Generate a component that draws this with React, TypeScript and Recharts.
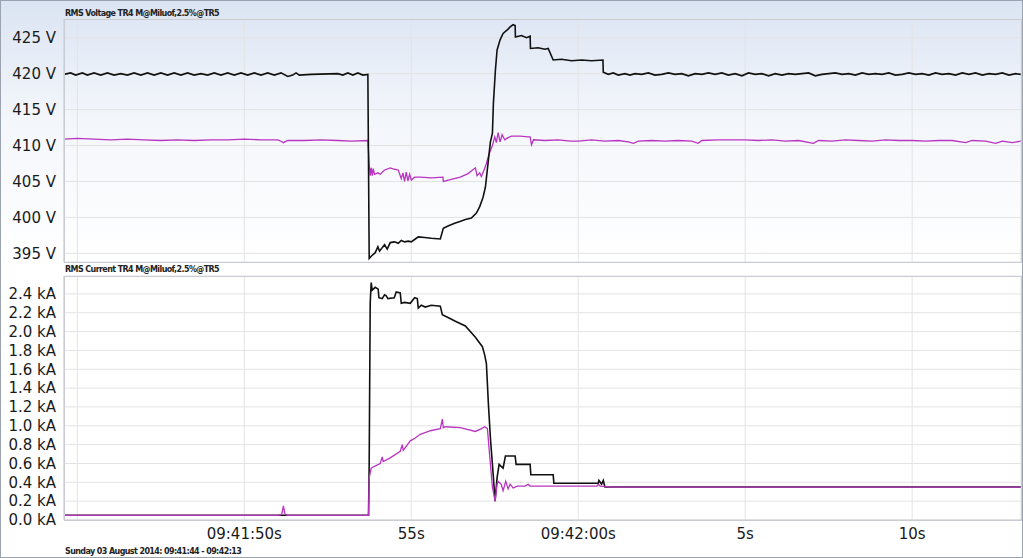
import React from 'react';
import { LineChart, Line, XAxis, YAxis, CartesianGrid } from 'recharts';

// time in seconds after 09:41:00, value
const voltageBlack: [number, number][] = [
  [44.6, 419.9], [44.8, 420.1], [44.95, 419.8], [45.15, 420.1], [45.3, 419.8], [45.5, 420.1], [45.7, 419.8],
  [45.9, 420.1], [46.1, 419.8], [46.3, 420.0], [46.5, 419.8], [46.7, 420.1], [46.9, 419.8], [47.1, 420.1],
  [47.3, 419.8], [47.5, 420.1], [47.7, 419.8], [47.9, 420.1], [48.1, 419.8], [48.3, 420.1], [48.5, 419.8],
  [48.7, 420.0], [48.9, 419.8], [49.1, 420.1], [49.3, 419.8], [49.5, 420.1], [49.7, 419.8], [49.9, 420.1],
  [50.1, 419.8], [50.3, 420.1], [50.5, 419.8], [50.7, 420.1], [50.9, 419.8], [51.1, 420.1], [51.3, 419.6],
  [51.45, 419.8], [51.55, 420.1], [51.65, 419.8], [52.0, 419.9], [52.8, 420.0], [52.95, 419.8], [53.1, 420.1],
  [53.25, 419.8], [53.4, 420.1], [53.55, 419.8], [53.7, 419.9],
  [53.74, 394.3], [53.8, 394.6], [53.92, 395.1], [54.0, 395.9], [54.05, 395.3], [54.13, 395.8], [54.2, 396.2],
  [54.28, 395.6], [54.37, 396.5], [54.5, 396.6], [54.61, 396.4], [54.7, 396.8], [54.8, 396.6], [54.91, 396.7],
  [55.0, 396.6], [55.12, 397.0], [55.21, 397.3], [55.4, 397.2], [55.6, 397.1], [55.87, 397.0], [55.96, 398.5],
  [56.1, 398.8], [56.3, 399.2], [56.5, 399.5], [56.62, 399.7], [56.8, 399.9], [56.95, 400.6], [57.05, 401.5],
  [57.15, 402.8], [57.22, 404.2], [57.31, 408.0], [57.37, 410.5], [57.43, 411.7], [57.46, 415.9], [57.52, 420.5],
  [57.57, 423.3], [57.66, 424.7], [57.75, 425.6], [57.9, 426.2], [57.96, 426.5], [58.05, 426.8], [58.11, 426.7],
  [58.12, 425.1], [58.3, 425.3], [58.45, 425.0], [58.56, 425.2], [58.57, 423.5], [58.8, 423.6], [59.0, 423.4],
  [59.1, 423.5], [59.25, 421.9], [59.5, 422.0], [59.8, 421.8], [60.1, 421.9], [60.4, 421.8], [60.74, 421.9],
  [60.75, 420.2], [60.9, 419.9], [61.05, 420.1], [61.2, 419.8], [61.4, 420.0], [61.55, 419.8], [61.7, 420.0],
  [61.9, 419.9], [62.1, 420.1], [62.3, 419.8], [62.5, 419.9], [62.7, 420.1], [62.9, 419.9], [63.1, 420.0],
  [63.3, 419.7], [63.5, 420.0], [63.7, 419.9], [63.9, 420.1], [64.1, 419.9], [64.3, 420.1], [64.5, 419.8],
  [64.7, 420.0], [64.9, 419.7], [65.1, 420.1], [65.3, 419.9], [65.5, 420.0], [65.7, 419.7], [65.9, 420.0],
  [66.1, 419.8], [66.3, 420.0], [66.5, 419.9], [66.7, 420.0], [66.9, 420.1], [67.1, 419.7], [67.3, 419.9],
  [67.5, 420.0], [67.7, 420.1], [67.9, 419.9], [68.1, 420.0], [68.3, 419.8], [68.5, 420.1], [68.7, 419.9],
  [68.9, 420.0], [69.1, 419.9], [69.3, 420.1], [69.5, 419.8], [69.7, 419.9], [69.9, 420.1], [70.1, 419.9],
  [70.3, 420.0], [70.5, 419.8], [70.7, 420.1], [70.9, 419.9], [71.1, 420.0], [71.3, 419.8], [71.5, 420.1],
  [71.7, 419.9], [71.9, 420.1], [72.1, 419.8], [72.3, 420.0], [72.5, 419.9], [72.7, 420.1], [72.9, 419.8],
  [73.1, 420.0], [73.25, 419.9],
];

const voltageMagenta: [number, number][] = [
  [44.6, 410.9], [45.0, 411.0], [45.5, 410.9], [46.0, 410.8], [46.5, 410.9], [47.0, 410.8], [47.5, 410.7],
  [48.0, 410.8], [48.5, 410.7], [49.0, 410.8], [49.5, 410.8], [50.0, 410.9], [50.5, 410.8], [51.0, 410.8],
  [51.1, 410.6], [51.17, 410.4], [51.3, 410.7], [51.8, 410.7], [52.3, 410.8], [52.8, 410.7], [53.2, 410.6],
  [53.7, 410.7], [53.74, 407.5], [53.77, 405.8], [53.8, 406.9], [53.83, 405.8], [53.86, 406.8], [53.9, 406.0],
  [54.0, 406.2], [54.07, 406.0], [54.2, 406.6], [54.37, 406.9], [54.5, 406.7], [54.61, 406.6], [54.7, 405.4],
  [54.75, 406.2], [54.8, 405.0], [54.85, 406.3], [54.9, 405.1], [54.95, 406.0], [55.0, 405.2], [55.1, 405.6],
  [55.27, 405.6], [55.6, 405.5], [55.95, 405.6], [55.96, 405.0], [56.2, 405.3], [56.47, 405.6], [56.7, 406.1],
  [56.92, 406.9], [56.97, 405.8], [57.05, 406.2], [57.1, 405.7], [57.18, 406.6], [57.25, 407.5], [57.31, 408.5],
  [57.37, 409.3], [57.43, 410.0], [57.5, 411.2], [57.55, 410.4], [57.6, 411.8], [57.66, 410.5], [57.72, 411.5],
  [57.8, 410.8], [57.9, 411.1], [58.0, 411.3], [58.26, 411.3], [58.5, 411.2], [58.56, 411.2], [58.6, 410.1],
  [58.66, 410.8], [59.0, 410.7], [59.4, 410.8], [59.76, 410.6], [60.0, 410.6], [60.4, 410.8], [60.8, 410.6],
  [61.2, 410.7], [61.5, 410.5], [61.65, 410.3], [61.8, 410.6], [62.2, 410.7], [62.6, 410.6], [63.0, 410.7],
  [63.4, 410.6], [63.59, 410.3], [63.7, 410.7], [64.2, 410.8], [64.6, 410.8], [65.0, 410.8], [65.4, 410.7],
  [65.8, 410.8], [66.2, 410.6], [66.6, 410.7], [67.04, 410.3], [67.2, 410.7], [67.6, 410.6], [68.0, 410.8],
  [68.4, 410.7], [68.8, 410.6], [69.2, 410.8], [69.6, 410.7], [70.0, 410.7], [70.4, 410.6], [70.8, 410.7],
  [71.2, 410.7], [71.6, 410.4], [71.8, 410.7], [72.2, 410.6], [72.5, 410.3], [72.7, 410.6], [73.0, 410.4],
  [73.25, 410.6],
];

const currentBlack: [number, number][] = [
  [44.6, 0.05], [46.0, 0.05], [48.0, 0.05], [50.0, 0.05], [52.0, 0.05], [53.72, 0.05],
  [53.74, 0.6], [53.77, 2.3], [53.8, 2.52], [53.83, 2.44], [53.92, 2.47], [54.01, 2.45], [54.03, 2.36],
  [54.13, 2.35], [54.2, 2.39], [54.25, 2.38], [54.3, 2.35], [54.49, 2.36], [54.55, 2.42], [54.67, 2.41],
  [54.7, 2.3], [54.8, 2.31], [54.97, 2.3], [55.1, 2.36], [55.18, 2.35], [55.21, 2.25], [55.3, 2.28],
  [55.42, 2.26], [55.6, 2.28], [55.87, 2.27], [55.93, 2.18], [56.1, 2.15], [56.32, 2.11], [56.62, 2.06],
  [56.92, 1.94], [57.13, 1.84], [57.2, 1.75], [57.25, 1.66], [57.31, 1.23], [57.37, 0.87], [57.46, 0.45],
  [57.51, 0.2], [57.57, 0.45], [57.63, 0.59], [57.75, 0.55], [57.82, 0.68], [58.11, 0.68], [58.14, 0.59],
  [58.56, 0.59], [58.58, 0.48], [59.25, 0.48], [59.27, 0.39], [60.6, 0.39], [60.62, 0.42], [60.7, 0.38],
  [60.75, 0.42], [60.8, 0.35], [62.0, 0.35], [64.0, 0.35], [66.0, 0.35], [68.0, 0.35], [70.0, 0.35],
  [72.0, 0.35], [73.25, 0.35],
];

const currentMagenta: [number, number][] = [
  [44.6, 0.05], [48.0, 0.05], [51.0, 0.05], [51.12, 0.06], [51.17, 0.15], [51.22, 0.06], [51.3, 0.05],
  [53.72, 0.05], [53.74, 0.45], [53.8, 0.55], [53.9, 0.57], [54.07, 0.6], [54.13, 0.67], [54.16, 0.62],
  [54.37, 0.66], [54.67, 0.73], [54.73, 0.8], [54.76, 0.74], [54.97, 0.84], [55.12, 0.87], [55.27, 0.91],
  [55.6, 0.95], [55.87, 0.97], [55.93, 1.07], [55.96, 0.98], [56.02, 0.99], [56.47, 0.98], [56.92, 0.94],
  [57.1, 0.97], [57.2, 0.99], [57.28, 0.97], [57.37, 0.59], [57.43, 0.35], [57.51, 0.2], [57.57, 0.38],
  [57.6, 0.41], [57.69, 0.38], [57.75, 0.31], [57.83, 0.41], [57.9, 0.33], [57.96, 0.38], [58.05, 0.34],
  [58.17, 0.36], [58.41, 0.36], [58.5, 0.38], [58.56, 0.36], [59.76, 0.36], [60.56, 0.36], [60.6, 0.38],
  [60.66, 0.36], [61.0, 0.35], [63.0, 0.35], [65.0, 0.35], [67.0, 0.35], [69.0, 0.35], [71.0, 0.35],
  [73.25, 0.35],
];

const timeTicks = [45, 50, 55, 60, 65, 70];
const timeTickLabels = ['', '09:41:50s', '55s', '09:42:00s', '5s', '10s'];
const voltageTicks = [395, 400, 405, 410, 415, 420, 425];
const currentTicks = [0, 0.2, 0.4, 0.6, 0.8, 1.0, 1.2, 1.4, 1.6, 1.8, 2.0, 2.2, 2.4];

const voltageTitle = 'RMS Voltage TR4 M@Miluof,2.5%@TR5';
const currentTitle = 'RMS Current TR4 M@Miluof,2.5%@TR5';
const footerText = 'Sunday 03 August 2014: 09:41:44 - 09:42:13';

const toPoints = (arr: [number, number][]) => arr.map(([t, v]) => ({ t, v }));

const FONT = '"DejaVu Sans", Verdana, sans-serif';
const BLACK = '#111111';
const MAGENTA = '#b934c0';
const GRID = '#e3e3e3';
const FRAME = '#c9ccd2';

const tickStyle = { fontSize: 15, fill: '#1a1a1a', fontFamily: FONT };
const titleStyle: React.CSSProperties = {
  position: 'absolute', left: 65, fontFamily: FONT, fontWeight: 'bold', fontSize: 8, color: '#222',
  whiteSpace: 'nowrap', lineHeight: '10px', letterSpacing: -0.6,
};

const formatTime = (t: number) => {
  const i = timeTicks.indexOf(t);
  return i >= 0 ? timeTickLabels[i] : '';
};

const App: React.FC = () => {
  return (
    <div style={{ position: 'absolute', left: 0, top: 0, width: 1023, height: 558, background: '#fff', overflow: 'hidden' }}>
      {/* top panel */}
      <div style={{ position: 'absolute', left: 0, top: 0, width: 1023, height: 262, background: 'linear-gradient(#dbe4f3 0%, #f3f6fb 45%, #ffffff 100%)' }} />
      <div style={{ position: 'absolute', left: 0, top: 0 }}>
        <LineChart width={1023} height={262} margin={{ top: 19, right: 2, bottom: 0, left: 0 }}>
          <CartesianGrid stroke={GRID} />
          <XAxis dataKey="t" type="number" domain={[44.6, 73.26]} ticks={timeTicks} hide allowDuplicatedCategory={false} />
          <YAxis
            type="number"
            domain={[393.8, 427.6]}
            ticks={voltageTicks}
            interval={0}
            width={64}
            tick={tickStyle}
            tickLine={false}
            axisLine={{ stroke: FRAME }}
            tickFormatter={(v: number) => `${v} V`}
            allowDataOverflow
          />
          <Line data={toPoints(voltageMagenta)} dataKey="v" stroke={MAGENTA} strokeWidth={1.3} dot={false} isAnimationActive={false} />
          <Line data={toPoints(voltageBlack)} dataKey="v" stroke={BLACK} strokeWidth={1.6} dot={false} isAnimationActive={false} />
        </LineChart>
      </div>
      <div style={{ position: 'absolute', left: 64, top: 19, width: 956, height: 242, border: `1px solid ${FRAME}`, pointerEvents: 'none' }} />
      <div style={{ ...titleStyle, top: 9 }}>{voltageTitle}</div>

      {/* bottom panel */}
      <div style={{ position: 'absolute', left: 0, top: 262 }}>
        <LineChart width={1023} height={296} margin={{ top: 14, right: 2, bottom: 16, left: 0 }}>
          <CartesianGrid stroke={GRID} />
          <XAxis
            dataKey="t"
            type="number"
            domain={[44.6, 73.26]}
            ticks={timeTicks}
            interval={0}
            height={22}
            tick={tickStyle}
            tickLine={false}
            axisLine={{ stroke: FRAME }}
            tickFormatter={formatTime}
            allowDuplicatedCategory={false}
          />
          <YAxis
            type="number"
            domain={[0, 2.59]}
            ticks={currentTicks}
            interval={0}
            width={64}
            tick={tickStyle}
            tickLine={false}
            axisLine={{ stroke: FRAME }}
            tickFormatter={(v: number) => `${v.toFixed(1)} kA`}
            allowDataOverflow
          />
          <Line data={toPoints(currentBlack)} dataKey="v" stroke={BLACK} strokeWidth={1.6} dot={false} isAnimationActive={false} />
          <Line data={toPoints(currentMagenta)} dataKey="v" stroke={MAGENTA} strokeWidth={1.3} dot={false} isAnimationActive={false} />
        </LineChart>
      </div>
      <div style={{ position: 'absolute', left: 64, top: 276, width: 956, height: 243, border: `1px solid ${FRAME}`, pointerEvents: 'none' }} />
      <div style={{ ...titleStyle, top: 265 }}>{currentTitle}</div>

      <div style={{ ...titleStyle, top: 547 }}>{footerText}</div>
      <div style={{ position: 'absolute', left: 0, top: 0, width: 1021, height: 556, border: '1px solid #9aa3ae', pointerEvents: 'none' }} />
    </div>
  );
};

export default App;
